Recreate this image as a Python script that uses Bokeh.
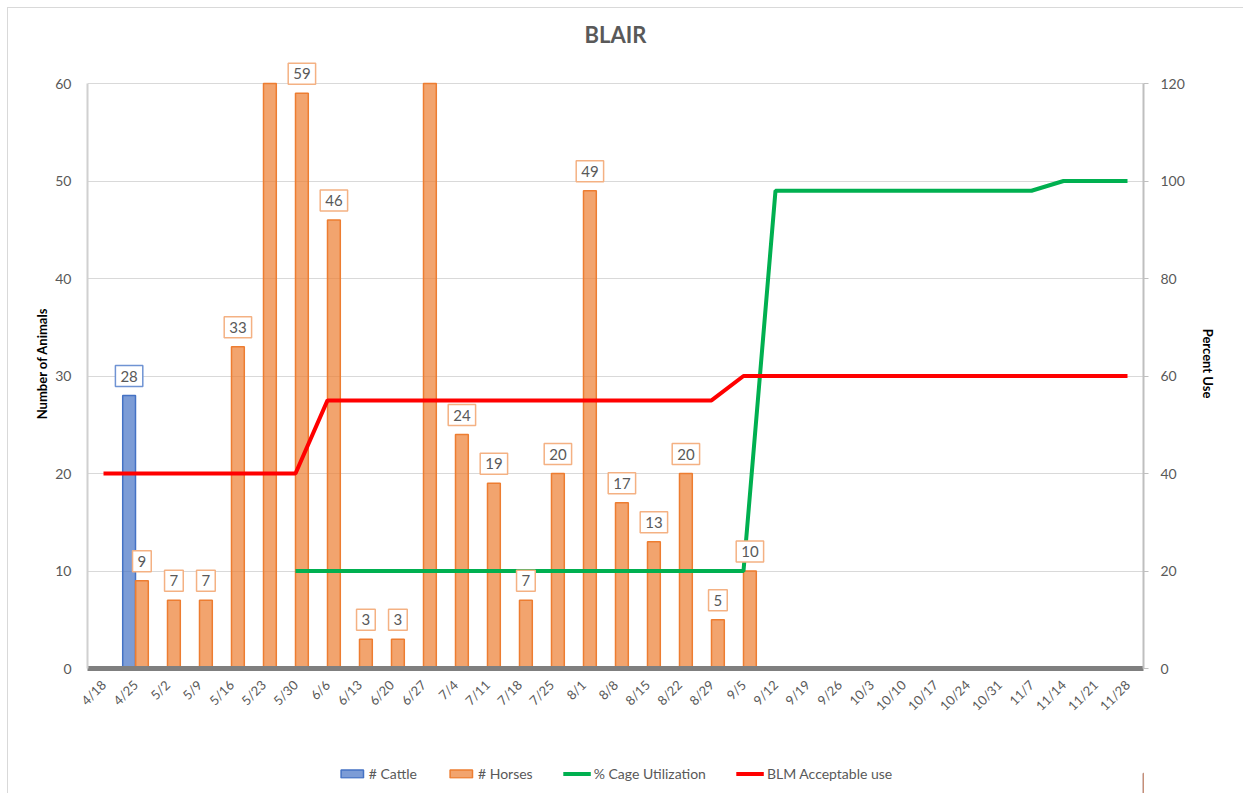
import math
from bokeh.plotting import figure
from bokeh.layouts import column
from bokeh.models import (ColumnDataSource, Range1d, LinearAxis, Legend, LegendItem,
                          SingleIntervalTicker, Label)
from bokeh.transform import dodge
from bokeh.embed import file_html
from bokeh.resources import INLINE

dates = ["4/18", "4/25", "5/2", "5/9", "5/16", "5/23", "5/30", "6/6", "6/13", "6/20", "6/27",
         "7/4", "7/11", "7/18", "7/25", "8/1", "8/8", "8/15", "8/22", "8/29", "9/5", "9/12",
         "9/19", "9/26", "10/3", "10/10", "10/17", "10/24", "10/31", "11/7", "11/14", "11/21", "11/28"]
cattle = [None, 28] + [None] * 31
horses = [None, 9, 7, 7, 33, 65, 59, 46, 3, 3, 68, 24, 19, 7, 20, 49, 17, 13, 20, 5, 10] + [None] * 12
cage_util = [None] * 6 + [20] * 15 + [98] * 9 + [100] * 3
blm_use = [40] * 7 + [55] * 13 + [60] * 13

Y_MAX = 60      # left axis maximum; bars beyond it are cut at the axis top
FONT = "Lato"
GRAY = "#595959"

def disp(v):
    return float("nan") if v is None else float(min(v, Y_MAX))

src = ColumnDataSource(dict(
    dates=dates,
    cattle=[disp(v) for v in cattle],
    horses=[disp(v) for v in horses],
    cage=[float("nan") if v is None else float(v) for v in cage_util],
    blm=[float(v) for v in blm_use],
))

FH = 610  # frame height including headroom above 60 for the data labels
top = Y_MAX * FH / 585.0
p = figure(frame_width=1056, frame_height=FH, x_range=dates, y_range=Range1d(0, top),
           output_backend="svg", toolbar_location=None,
           min_border_left=79, min_border_right=100, min_border_top=49, min_border_bottom=85)
p.extra_y_ranges = {"pct": Range1d(0, top * 2)}

p.title.text = "BLAIR"
p.title.align = "center"
p.title.text_font = FONT
p.title.text_font_size = "22px"
p.title.text_color = GRAY
p.title.text_font_style = "bold"
p.title.standoff = 21

p.outline_line_color = None
p.xgrid.grid_line_color = None
p.ygrid.grid_line_color = "#d9d9d9"
p.ygrid.ticker = SingleIntervalTicker(interval=10)

bar_c = dict(fill_color="#4472C4", fill_alpha=0.7, line_color="#4472C4", line_width=1.5)
bar_h = dict(fill_color="#ED7D31", fill_alpha=0.7, line_color="#ED7D31", line_width=1.5)
ln_c = dict(line_color="#00B050", line_width=4)
ln_b = dict(line_color="#FF0000", line_width=4)

p.vbar(x=dodge("dates", -0.2, range=p.x_range), top="cattle", width=0.4, source=src, **bar_c)
p.vbar(x=dodge("dates", 0.2, range=p.x_range), top="horses", width=0.4, source=src, **bar_h)
p.line(x="dates", y="cage", source=src, y_range_name="pct", **ln_c)
p.line(x="dates", y="blm", source=src, y_range_name="pct", **ln_b)

# data labels (skip values beyond the visible range); factor i sits at i + 0.5
for series, off, bc in [(horses, 0.2, "#F4B183"), (cattle, -0.2, "#6F93D3")]:
    for i, v in enumerate(series):
        if v is None or v > Y_MAX:
            continue
        p.add_layout(Label(x=i + 0.5 + off, y=v, text=str(v), y_offset=9,
                           text_align="center", text_baseline="bottom",
                           text_font=FONT, text_font_size="15px", text_color=GRAY,
                           background_fill_color="white", border_line_color=bc,
                           border_line_width=1.5, padding=5))

ax = p.yaxis[0]
ax.ticker = SingleIntervalTicker(interval=10)
ax.bounds = (0, Y_MAX)
ax.axis_label = "Number of Animals"
ax.axis_label_text_font = FONT
ax.axis_label_text_font_size = "13px"
ax.axis_label_text_font_style = "bold"
ax.axis_label_text_color = "black"
ax.axis_label_standoff = 2
ax.major_label_text_font = FONT
ax.major_label_text_font_size = "14px"
ax.major_label_text_color = GRAY
ax.axis_line_color = "#d0d0d0"
ax.axis_line_width = 2
ax.major_tick_line_color = None
ax.minor_tick_line_color = None
ax.major_label_standoff = 10

ra = LinearAxis(y_range_name="pct", ticker=SingleIntervalTicker(interval=20),
                axis_label="Percent Use", bounds=(0, 2 * Y_MAX))
ra.axis_label_text_font = FONT
ra.axis_label_text_font_size = "13px"
ra.axis_label_text_font_style = "bold"
ra.axis_label_text_color = "black"
ra.major_label_text_font = FONT
ra.major_label_text_font_size = "14px"
ra.major_label_text_color = GRAY
ra.axis_line_color = "#bfbfbf"
ra.axis_line_width = 2
ra.major_tick_line_color = "#bfbfbf"
ra.major_tick_out = 5
ra.major_tick_in = 0
ra.minor_tick_line_color = None
ra.major_label_standoff = 12
ra.axis_label_standoff = 12
p.add_layout(ra, "right")

bx = p.xaxis[0]
bx.major_label_orientation = math.pi / 4
bx.major_label_text_font = FONT
bx.major_label_text_font_size = "13px"
bx.major_label_text_color = GRAY
bx.axis_line_color = "#7f7f7f"
bx.axis_line_width = 5
bx.major_tick_line_color = None
bx.major_label_standoff = 8

# legend strip below the chart; its key glyphs sit outside the strip's visible range
lg = figure(width=1235, height=40, x_range=Range1d(0, 1), y_range=Range1d(0, 1),
            x_axis_type=None, y_axis_type=None, output_backend="svg", toolbar_location=None,
            min_border=0)
lg.outline_line_color = None
l_c = lg.vbar(x=[5], top=[0.5], width=0.4, **bar_c)
l_h = lg.vbar(x=[5], top=[0.5], width=0.4, **bar_h)
l_g = lg.line(x=[5, 6], y=[0.5, 0.5], **ln_c)
l_r = lg.line(x=[5, 6], y=[0.5, 0.5], **ln_b)
legend = Legend(items=[
    LegendItem(label="# Cattle", renderers=[l_c]),
    LegendItem(label="# Horses", renderers=[l_h]),
    LegendItem(label="% Cage Utilization", renderers=[l_g]),
    LegendItem(label="BLM Acceptable use", renderers=[l_r]),
], orientation="horizontal", location="center")
legend.label_text_font = FONT
legend.label_text_font_size = "14px"
legend.label_text_color = GRAY
legend.border_line_color = None
legend.background_fill_alpha = 0
legend.glyph_width = 28
legend.glyph_height = 10
legend.spacing = 30
legend.label_standoff = 3
legend.margin = 0
legend.padding = 4
lg.add_layout(legend, "center")

layout = column(p, lg, spacing=0)
layout.styles = {"border-left": "1px solid #d9d9d9", "border-top": "1px solid #d9d9d9",
                 "margin-left": "7px", "margin-top": "7px"}

open("out.html", "w").write(file_html(layout, INLINE))
